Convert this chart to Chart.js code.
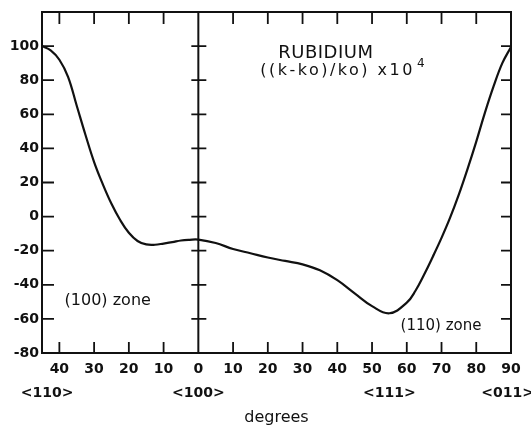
<!DOCTYPE html>
<html lang="en">
<head>
<meta charset="UTF-8">
<title>Rubidium</title>
<script src="https://cdn.jsdelivr.net/npm/chart.js@4.4.0/dist/chart.umd.min.js"></script>
<style>
  body { margin: 0; background: #fff; }
</style>
</head>
<body>
<canvas id="c" width="531" height="427"></canvas>
<script>
// (100) zone, read from 45 deg down to 0 (plotted left of the centre line)
const leftDeg = [45, 42.5, 40, 37.5, 35, 32.5, 30, 27.5, 25, 22.5, 20, 17.5, 15, 12.5, 10, 7.5, 5, 2.5, 0];
const leftVal = [100, 97.5, 92, 82, 65, 48, 32, 19, 7.5, -2, -9.5, -14.3, -16.3, -16.5, -15.8, -15, -14, -13.6, -13.5];
// (110) zone, 0 to 90 deg
const rightDeg = [0, 5, 10, 15, 20, 25, 30, 35, 40, 45, 50, 55, 60, 62.5, 65, 67.5, 70, 72.5, 75, 77.5, 80, 82.5, 85, 87.5, 90];
const rightVal = [-13.5, -15.5, -19, -21.5, -24, -26, -28, -31.5, -37.3, -45, -52.5, -56.7, -50.5, -43.5, -34, -23.5, -12.5, -0.5, 13, 28, 44, 61, 76.5, 90, 99.5];

const xTicks = [-40, -30, -20, -10, 0, 10, 20, 30, 40, 50, 60, 70, 80, 90];
const yTicks = [-80, -60, -40, -20, 0, 20, 40, 60, 80, 100];
const dirLabels = ['<110>', '<100>', '<111>', '<011>'];
const dirAngles = [-43.5, 0, 55, 89];

const ink = '#111';
const fam = '"DejaVu Sans", sans-serif';

// left panel is on a mirrored axis: plot it at negative x
const points = leftDeg.map((d, i) => ({x: -d, y: leftVal[i]}))
  .concat(rightDeg.slice(1).map((d, i) => ({x: d, y: rightVal[i + 1]})));

const framePlugin = {
  id: 'frame',
  afterDraw(chart) {
    const {ctx, chartArea: a, scales: {x, y}} = chart;
    ctx.save();
    ctx.strokeStyle = ink;
    ctx.lineWidth = 2;
    ctx.strokeRect(a.left, a.top, a.right - a.left, a.bottom - a.top);

    // centre line at 0 deg
    const cx = x.getPixelForValue(0);
    ctx.beginPath();
    ctx.moveTo(cx, a.top);
    ctx.lineTo(cx, a.bottom);
    ctx.stroke();

    ctx.lineWidth = 1.8;
    ctx.beginPath();
    yTicks.forEach(v => {
      const py = y.getPixelForValue(v);
      ctx.moveTo(a.left, py); ctx.lineTo(a.left + 12, py);
      ctx.moveTo(a.right, py); ctx.lineTo(a.right - 10, py);
      ctx.moveTo(cx - 7, py); ctx.lineTo(cx + 8, py);
    });
    xTicks.forEach(v => {
      if (v === 0 || v === 90) return;
      const px = x.getPixelForValue(v);
      ctx.moveTo(px, a.bottom); ctx.lineTo(px, a.bottom - 11);
      ctx.moveTo(px, a.top); ctx.lineTo(px, a.top + 12);
    });
    ctx.stroke();

    ctx.fillStyle = ink;
    ctx.textBaseline = 'middle';

    // direction labels under the degree ticks
    ctx.textAlign = 'center';
    ctx.font = 'bold 14px ' + fam;
    dirLabels.forEach((t, i) => {
      ctx.fillText(t, x.getPixelForValue(dirAngles[i]), a.bottom + 40);
    });
    ctx.font = '16px ' + fam;
    ctx.fillText('degrees', (a.left + a.right) / 2, a.bottom + 65);

    // annotations
    ctx.textAlign = 'left';
    ctx.font = '18px ' + fam;
    ctx.letterSpacing = '0.5px';
    ctx.fillText('RUBIDIUM', x.getPixelForValue(23), y.getPixelForValue(95.6));
    ctx.font = '16px ' + fam;
    ctx.letterSpacing = '2.5px';
    const l2 = '((k-ko)/ko) x10';
    const lx = x.getPixelForValue(17.8), ly = y.getPixelForValue(85.6);
    ctx.fillText(l2, lx, ly);
    const w = ctx.measureText(l2).width;
    ctx.letterSpacing = '0px';
    ctx.font = '12px ' + fam;
    ctx.fillText('4', lx + w + 2, ly - 7);

    ctx.font = '16px ' + fam;
    ctx.fillText('(100) zone', x.getPixelForValue(-38.5), y.getPixelForValue(-49.3));
    ctx.font = '15px ' + fam;
    ctx.fillText('(110) zone', x.getPixelForValue(58.2), y.getPixelForValue(-64));
    ctx.restore();
  }
};

new Chart(document.getElementById('c'), {
  type: 'line',
  data: {
    datasets: [{
      data: points,
      borderColor: ink,
      borderWidth: 2.2,
      pointRadius: 0,
      fill: false,
      tension: 0.4
    }]
  },
  options: {
    responsive: false,
    animation: false,
    layout: { padding: { top: 12, right: 20, left: 0, bottom: 0 } },
    plugins: { legend: { display: false }, tooltip: { enabled: false } },
    scales: {
      x: {
        type: 'linear',
        min: -45, max: 90,
        afterBuildTicks: s => { s.ticks = xTicks.map(v => ({value: v})); },
        afterFit: s => { s.height = 74; },
        grid: { display: false, drawTicks: false },
        border: { display: false },
        ticks: {
          color: ink,
          font: { family: fam, size: 14, weight: 'bold' },
          padding: 8,
          maxRotation: 0,
          autoSkip: false,
          callback: v => String(Math.abs(v))
        }
      },
      y: {
        min: -80, max: 120,
        afterBuildTicks: s => { s.ticks = yTicks.map(v => ({value: v})); },
        afterFit: s => { s.width = 42; },
        grid: { display: false, drawTicks: false },
        border: { display: false },
        ticks: {
          color: ink,
          font: { family: fam, size: 14, weight: 'bold' },
          padding: 3
        }
      }
    }
  },
  plugins: [framePlugin]
});
</script>
</body>
</html>
